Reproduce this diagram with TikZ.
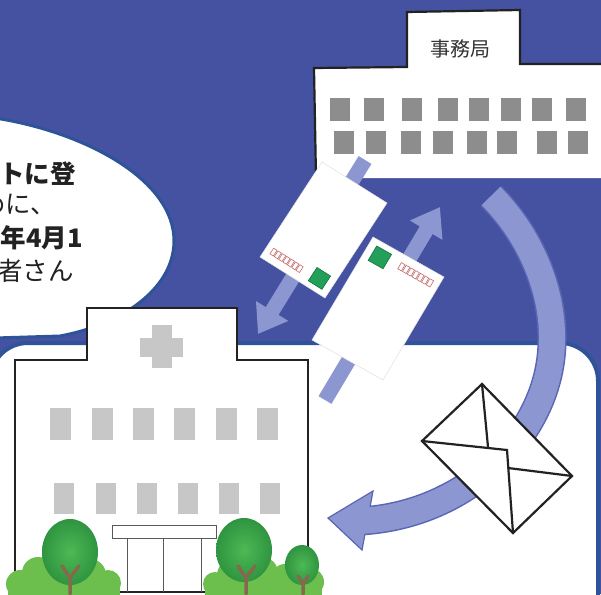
\documentclass[tikz,border=0pt]{standalone}
\usepackage{fontspec}
\newfontfamily\jpfont{Noto Sans CJK JP}
\usetikzlibrary{arrows.meta}
\definecolor{nightblue}{HTML}{4452A1}
\definecolor{rimblue}{HTML}{2F5399}
\definecolor{flowblue}{HTML}{8C96D1}
\definecolor{flowrim}{HTML}{5866B4}
\definecolor{inkgray}{HTML}{222222}
\definecolor{winoffice}{HTML}{8D8D8D}
\definecolor{winhosp}{HTML}{C7C7C7}
\definecolor{stampgreen}{HTML}{22A05A}
\definecolor{stampdark}{HTML}{17743F}
\definecolor{zipred}{HTML}{C46A6A}
\definecolor{leafdark}{HTML}{2F9440}
\definecolor{leaflight}{HTML}{4DB954}
\definecolor{bushgreen}{HTML}{6CBF4C}
\definecolor{trunkbrown}{HTML}{86684C}

% one postcard in its own (u,v) frame, 0..1 on both sides
\newcommand{\postcard}{%
  \filldraw[card] (0,0) -- (1,0) -- (1,1) -- (0,1) -- cycle;
  \filldraw[stamp] (0.095,0.05) -- (0.305,0.05) -- (0.305,0.19) -- (0.095,0.19) -- cycle;
  \foreach \k in {0,...,6} {
    \pgfmathsetmacro{\ux}{0.46+0.067*\k}
    \draw[zipbox] (\ux,0.07) -- (\ux+0.052,0.07) -- (\ux+0.052,0.13) -- (\ux,0.13) -- cycle;
  }%
}

\begin{document}
\begin{tikzpicture}[
  x=1pt, y=-1pt,
  % Area styles
  ground/.style={fill=white, draw=rimblue, line width=4pt, rounded corners=38pt},
  bubble/.style={fill=white, draw=rimblue, line width=3pt},
  outline/.style={draw=inkgray, line width=2.2pt, line join=miter},
  % Text styles
  bubbletext/.style={font=\jpfont\fontsize{25.5}{25.5}\selectfont, text=inkgray, inner sep=0pt},
  boldtext/.style={bubbletext, font=\jpfont\bfseries\fontsize{25.5}{25.5}\selectfont},
  % Postcard parts
  card/.style={fill=white, draw=black!12, line width=0.5pt},
  stamp/.style={fill=stampgreen, draw=stampdark, line width=0.6pt},
  zipbox/.style={draw=zipred, line width=0.6pt},
  % Arrow styles
  flow/.style={draw=flowblue, line width=15pt, -{Triangle[width=36pt,length=27pt]}},
  loopedge/.style={draw=flowrim, line width=29pt},
  loopfill/.style={draw=flowblue, line width=26pt},
  % Trees
  crown/.style={inner color=leaflight, outer color=leafdark},
  trunk/.style={draw=trunkbrown, line width=3.5pt, line cap=round},
]

  \useasboundingbox (0,0) rectangle (601,594);

  % Background and the white ground
  \fill[nightblue] (0,0) rectangle (601,594);
  \filldraw[ground] (-10,343) rectangle (598,640);

  % Speech bubble on the left
  \filldraw[bubble] (-5,118) .. controls (85,132) and (175,180) .. (174,242)
    .. controls (173,290) and (120,325) .. (60,336) -- (-5,338) -- cycle;
  \node[boldtext, anchor=base east] (lineA) at (76,183) {アンケートに登};
  \node[bubbletext, anchor=base east] (lineB) at (56,213) {ために、};
  \node[boldtext, anchor=base east] (lineC) at (83,247) {2024年4月1};
  \node[bubbletext, anchor=base east] (lineD) at (74,280) {患者さん};

  % Office building
  \fill[white] (316,178) -- (314,68) -- (407,67) -- (407,12) -- (520,10)
    -- (520,64) -- (610,64) -- (610,178) -- cycle;
  \draw[outline] (316,178) -- (314,68) -- (407,67) -- (407,12) -- (520,10)
    -- (520,64) -- (610,64);
  \node[font=\jpfont\fontsize{20}{20}\selectfont, text=black!80] (officelabel) at (460,49) {事務局};
  \foreach \wx in {330,364,402,438,469,501,532,566}
    \fill[winoffice] (\wx,98) rectangle ++(20,23);
  \foreach \wx in {334,366,401,433,467,497,537,568}
    \fill[winoffice] (\wx,131) rectangle ++(20,23);

  % Straight arrows between office and hospital
  \coordinate (downtail) at (365,160);
  \coordinate (downtip) at (258,334);
  \coordinate (uptail) at (325,400);
  \coordinate (uptip) at (440,207);
  \draw[flow] (downtail) -- (downtip);
  \draw[flow] (uptail) -- (uptip);

  % Postcards
  \begin{scope}[shift={(325,298)}, x={(-65pt,41pt)}, y={(62pt,95pt)}]
    \postcard
  \end{scope}
  \begin{scope}[shift={(373,237)}, x={(71pt,-40pt)}, y={(-61pt,-103pt)}]
    \postcard
  \end{scope}

  % Curved arrow round the envelope
  \coordinate (loopstart) at (491,196);
  \coordinate (loopmid) at (552,340);
  \coordinate (loopend) at (360,521);
  \coordinate (headtip) at (328,518);
  \coordinate (headup) at (373,491);
  \coordinate (headdown) at (362,550);
  \draw[loopedge] (loopstart) .. controls (530,235) and (553,290) .. (loopmid)
    .. controls (552,430) and (470,515) .. (loopend);
  \filldraw[fill=flowblue, draw=flowrim, line width=1.2pt, line join=miter]
    (headtip) -- (headup) -- (headdown) -- cycle;
  \draw[loopfill] (loopstart) .. controls (530,235) and (553,290) .. (loopmid)
    .. controls (552,430) and (470,515) .. (loopend);

  % Envelope
  \coordinate (envtop) at (482,384);
  \coordinate (envright) at (572,476);
  \coordinate (envbottom) at (513,533);
  \coordinate (envleft) at (422,441);
  \filldraw[outline, fill=white] (envtop) -- (envright) -- (envbottom) -- (envleft) -- cycle;
  \draw[outline] (envtop) -- (488,447);
  \draw[outline] (envleft) -- (507,450) -- (envbottom);
  \draw[outline] (508,468) -- (envright);

  % Hospital
  \filldraw[outline, fill=white] (15,592) -- (15,360) -- (87,360) -- (87,308)
    -- (237,308) -- (237,360) -- (308,360) -- (308,592) -- cycle;
  \fill[winhosp] (152,325) rectangle (172,368);
  \fill[winhosp] (140,338) rectangle (183,357);
  \foreach \wx in {50,92,133,174,216,257}
    \fill[winhosp] (\wx,408) rectangle ++(21,32);
  \foreach \wx in {54,96,137,178,219,260}
    \fill[winhosp] (\wx,483) rectangle ++(20,31);
  \draw[black!65, line width=1pt] (112,525) rectangle (216,538);
  \draw[black!65, line width=1pt] (127,592) -- (127,538) -- (201,538) -- (201,592);
  \draw[black!65, line width=1pt] (163,538) -- (163,592);

  % Bushes and trees in front
  \foreach \bx/\by/\br in {20/584/14, 38/573/16, 60/576/16, 90/575/16, 108/583/13,
      215/584/12, 232/575/15, 262/573/16, 285/578/14, 310/582/14}
    \fill[bushgreen] (\bx,\by) circle (\br);
  \fill[bushgreen] (8,582) rectangle (120,600);
  \fill[bushgreen] (205,582) rectangle (322,600);
  \shade[crown] (70,552) ellipse [x radius=28, y radius=33];
  \shade[crown] (244,550) ellipse [x radius=28, y radius=32];
  \shade[crown] (302,565) ellipse [x radius=17, y radius=20];
  \draw[trunk] (70,594) -- (70,578) -- (62,566) (70,578) -- (79,566);
  \draw[trunk] (246,594) -- (246,578) -- (238,566) (246,578) -- (255,566);
  \draw[trunk] (303,594) -- (303,584) -- (298,576) (303,584) -- (308,576);

\end{tikzpicture}
\end{document}
